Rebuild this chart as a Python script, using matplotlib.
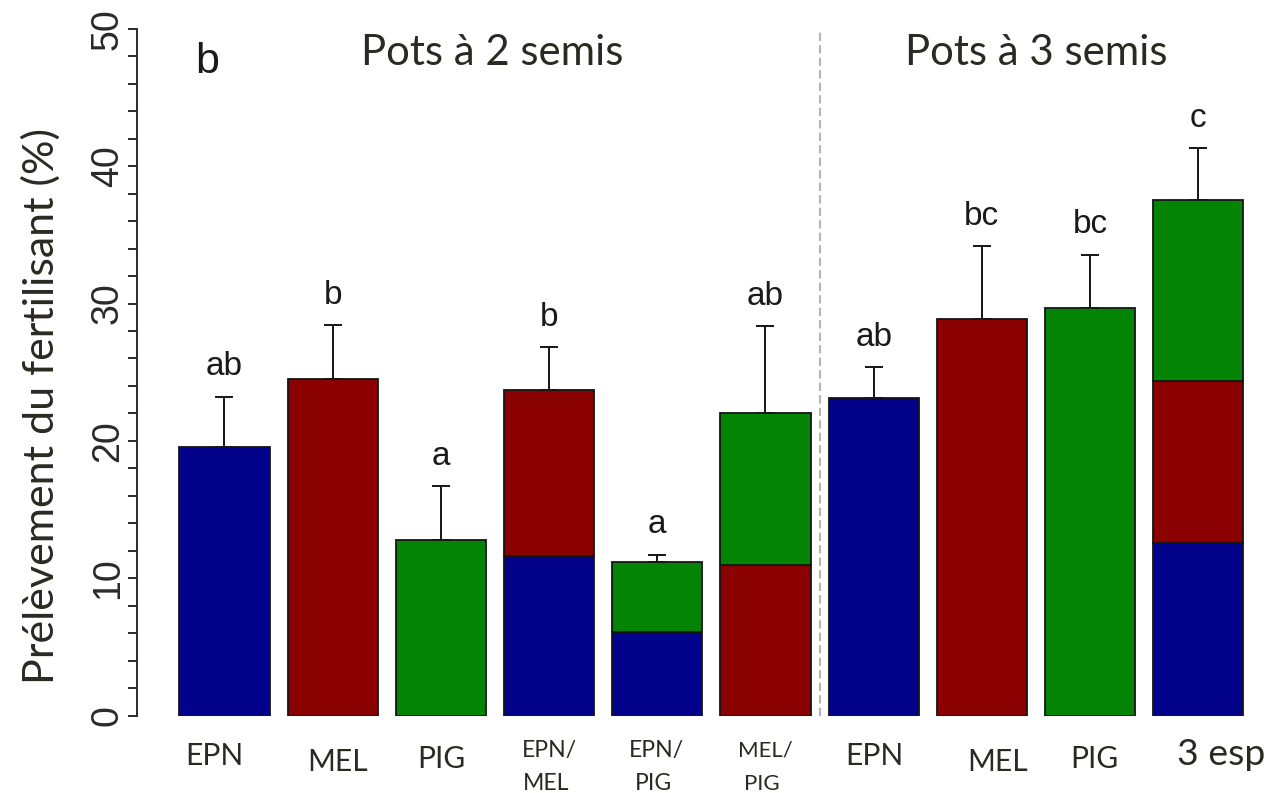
import numpy as np
import matplotlib
matplotlib.use('Agg')
import matplotlib.pyplot as plt

W, H = 1286, 793
DPI = 100

# ---------------- data ----------------
categories = ['EPN', 'MEL', 'PIG', 'EPN/\nMEL', 'EPN/\nPIG', 'MEL/\nPIG',
              'EPN', 'MEL', 'PIG', '3 esp']
epn = [19.55, 0, 0, 11.65, 6.1, 0, 23.1, 0, 0, 12.6]
mel = [0, 24.5, 0, 12.05, 0, 11.0, 0, 28.9, 0, 11.73]
pig = [0, 0, 12.8, 0, 5.07, 11.0, 0, 0, 29.66, 13.17]
err_up = [3.65, 3.9, 3.9, 3.1, 0.55, 6.35, 2.26, 5.26, 3.87, 3.8]
letters = ['ab', 'b', 'a', 'b', 'a', 'ab', 'ab', 'bc', 'bc', 'c']
group_titles = ['Pots à 2 semis', 'Pots à 3 semis']
panel_label = 'b'
ylabel = 'Prélèvement du fertilisant (%)'
yticks = [0, 10, 20, 30, 40, 50]

# ---------------- style ----------------
BLUE, RED, GREEN = '#02028a', '#8b0000', '#048404'
TXT = '#2b2a22'
FUT = ['Lato', 'DejaVu Sans']
ARI = ['Liberation Sans', 'DejaVu Sans']

def fx(px):
    return px / W

def fy(py):
    return 1 - py / H

fig = plt.figure(figsize=(W / DPI, H / DPI), dpi=DPI)
ax = fig.add_axes([fx(137), fy(715.7), (1280 - 137) / W, (715.7 - 28.7) / H])

x = 0.7 + 1.2 * np.arange(len(categories))
e, m, p = np.array(epn), np.array(mel), np.array(pig)
total = e + m + p

for vals, bottoms, col in [(e, np.zeros_like(e), BLUE), (m, e, RED), (p, e + m, GREEN)]:
    k = vals > 0
    ax.bar(x[k], vals[k], width=1.0, bottom=bottoms[k], color=col,
           edgecolor='#151515', linewidth=1.3, zorder=2)

ax.errorbar(x, total, yerr=[np.zeros_like(total), np.array(err_up)], fmt='none',
            ecolor='#151515', elinewidth=1.4, capsize=6.5, capthick=1.4, zorder=1)

for xi, top, lab in zip(x, total + np.array(err_up), letters):
    ax.annotate(lab, (xi, top), xytext=(0, 15.5), textcoords='offset points',
                ha='center', va='baseline', fontsize=24, family=ARI, color='#1a1a1a')

ax.axvline((x[5] + x[6]) / 2, ymin=0, ymax=1, color='#b5b5b5', lw=1.5,
           dashes=(4, 2), zorder=0)

ax.set_xlim(-0.270, 12.406)
ax.set_ylim(0, 50)
for s in ['top', 'right', 'bottom']:
    ax.spines[s].set_visible(False)
ax.spines['left'].set_bounds(0, 50)
ax.spines['left'].set_color('#2a2a2a')
ax.spines['left'].set_linewidth(1.4)
ax.set_xticks([])
ax.set_yticks(yticks)
ax.set_yticks(np.arange(0, 51, 2), minor=True)
ax.tick_params(axis='y', which='both', length=6.5, width=1.4, color='#2a2a2a')
ax.tick_params(axis='y', which='major', labelsize=27, labelcolor='#2a2a2a', pad=1.5)
for t in ax.get_yticklabels():
    t.set_rotation(90)
    t.set_va('center')
    t.set_ha('right')
    t.set_family(ARI)
ax.set_facecolor('none')

texts = []
# titles
for cx, title in zip([492.5, 1036.7], group_titles):
    t = fig.text(fx(cx), fy(65), title, ha='center', va='baseline', fontsize=30,
                 family=FUT, color=TXT)
    texts.append((t, 262, 'w'))

fig.text(fx(206.7), fy(73.3), panel_label, ha='center', va='baseline', fontsize=31,
         family=ARI, color='#1a1a1a')

yl = fig.text(fx(54), fy(406), ylabel, rotation=90, rotation_mode='anchor',
              ha='center', va='baseline', fontsize=28, family=FUT, color=TXT)
texts.append((yl, 558, 'h'))

# category labels
lab_x = [214, 338, 441, 549, 656.5, 765, 874, 998, 1094, 1221]
lab_y = [765, 771, 768, 756.7, 756.7, 756.7, 765, 771, 768, 765]
for i, (cx, by, lab) in enumerate(zip(lab_x, lab_y, categories)):
    if '\n' in lab:
        l1, l2 = lab.split('\n')
        t1 = fig.text(fx(cx), fy(by), l1, ha='center', va='baseline', fontsize=17,
                      family=FUT, color=TXT)
        t2 = fig.text(fx(cx - 3), fy(by + 33.5), l2, ha='center', va='baseline',
                      fontsize=17, family=FUT, color=TXT)
        texts.append((t1, 55, 'w'))
        texts.append((t2, None, t1))
    else:
        t = fig.text(fx(cx), fy(by), lab, ha='center', va='baseline', fontsize=21,
                     family=FUT, color=TXT)
        if lab == 'EPN':
            texts.append((t, 58, 'w'))
        elif lab == '3 esp':
            texts.append((t, 88, 'w'))
        else:
            texts.append((t, None, 'EPN'))

fig.canvas.draw()
r = fig.canvas.get_renderer()
epn_fs = None
for t, target, mode in texts:
    if target is None:
        continue
    bb = t.get_window_extent(r)
    size = bb.width if mode == 'w' else bb.height
    t.set_fontsize(t.get_fontsize() * target / size)
    if t.get_text() == 'EPN':
        epn_fs = t.get_fontsize()
for t, target, ref in texts:
    if target is None:
        if ref == 'EPN':
            t.set_fontsize(epn_fs)
        else:
            t.set_fontsize(ref.get_fontsize())

fig.savefig('out.png', dpi=DPI, facecolor='white')
